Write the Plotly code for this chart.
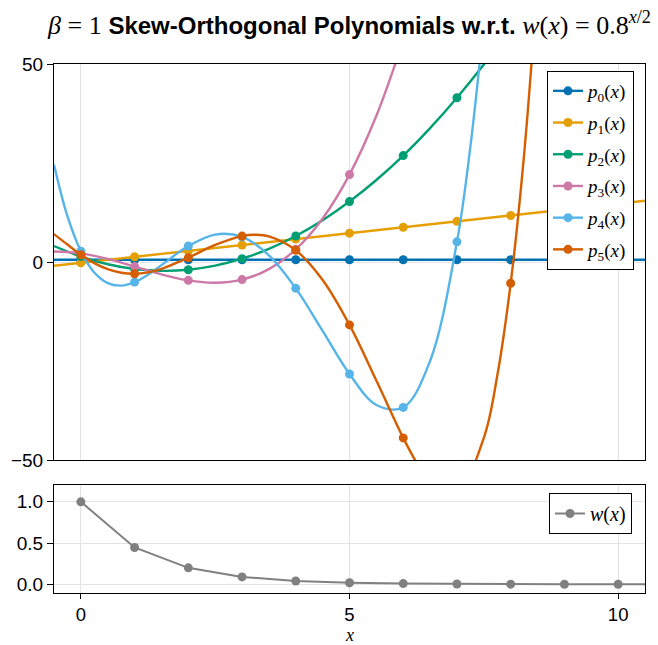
import plotly.graph_objects as go

# ---------------- data ----------------
x_int = [0, 1, 2, 3, 4, 5, 6, 7, 8, 9, 10]

p0_x = [-0.5, 10.5]
p0_y = [0.62, 0.62]
p0_m = [0.62, 0.62, 0.62, 0.62, 0.62, 0.62, 0.62, 0.62, 0.62, 0.62, 0.62]

p1_x = [-0.5, 10.5]
p1_y = [-0.87, 15.52]
p1_m = [-0.12, 1.37, 2.86, 4.35, 5.84, 7.33, 8.82, 10.31, 11.80, 13.29, 14.78]

p2_x = [-0.5, 0, 0.5, 1, 1.5, 2, 2.5, 3, 3.5, 4, 4.5, 5, 5.5, 6, 6.5, 7, 7.5, 8]
p2_y = [4.09, 1.43, -0.51, -1.70, -2.16, -1.88, -0.86, 0.90, 3.39, 6.63, 10.59,
        15.30, 20.74, 26.90, 33.84, 41.50, 49.89, 59.03]
p2_m = [1.43, -1.70, -1.88, 0.90, 6.63, 15.30, 26.90, 41.50, None, None, None]

p3_x = [-0.5, 0, 0.5, 1, 1.5, 2, 2.5, 3, 3.5, 4, 4.5, 5, 5.5, 6]
p3_y = [2.70, 2.25, 0.83, -1.10, -3.06, -4.57, -5.17, -4.38, -1.73, 3.25, 11.04,
        22.10, 36.93, 55.95]
p3_m = [2.25, -1.10, -4.57, -4.38, 3.25, 22.10, None, None, None, None, None]

p4_x = [-0.5, -0.25, 0, 0.25, 0.5, 0.75, 1, 1.25, 1.5, 2, 2.5, 3, 3.5, 4, 4.5,
        5, 5.5, 6, 6.5, 7, 7.25, 7.5]
p4_y = [24.58, 11.61, 2.80, -2.60, -5.28, -5.89, -5.00, -3.13, -0.73, 4.09, 6.98,
        6.40, 1.76, -6.58, -17.32, -28.20, -36.00, -36.62, -24.90, 5.15, 29.15, 60.57]
p4_m = [2.80, -5.00, 4.09, 6.40, -6.58, -28.20, -36.62, 5.15, None, None, None]

p5_x = [-0.5, -0.25, 0, 0.25, 0.5, 0.75, 1, 1.25, 1.5, 2, 2.5, 3, 3.25, 3.5, 4,
        4.5, 5, 5.5, 6, 6.25, 6.5, 7, 7.5, 7.75, 8, 8.25, 8.5]
p5_y = [7.10, 4.46, 1.90, -0.21, -1.74, -2.64, -2.90, -2.55, -1.68, 1.14, 4.36,
        6.60, 6.92, 6.51, 3.02, -4.48, -15.80, -29.84, -44.30, -50.57, -55.43,
        -57.80, -44.28, -28.64, -5.30, 27.22, 70.70]
p5_m = [1.90, -2.90, 1.14, 6.60, 3.02, -15.80, -44.30, None, -5.30, None, None]

w_x = [0, 1, 2, 3, 4, 5, 6, 7, 8, 9, 10, 11]
w_y = [1.0, 0.446, 0.199, 0.089, 0.040, 0.018, 0.008, 0.0035, 0.0016, 0.0007,
       0.0003, 0.0001]
w_m = [1.0, 0.446, 0.199, 0.089, 0.040, 0.018, 0.008, 0.0035, 0.0016, 0.0007, 0.0003]

series = [
    (p0_x, p0_y, p0_m, "#0072B2"),
    (p1_x, p1_y, p1_m, "#E69F00"),
    (p2_x, p2_y, p2_m, "#009E73"),
    (p3_x, p3_y, p3_m, "#CC79A7"),
    (p4_x, p4_y, p4_m, "#56B4E9"),
    (p5_x, p5_y, p5_m, "#D55E00"),
]

SERIF = "Liberation Serif, Times New Roman, serif"
SANS = "Liberation Sans, Arial, Helvetica, sans-serif"
LW = 2.4
MS = 9

fig = go.Figure()
for i, (sx, sy, sm, col) in enumerate(series):
    g = f"p{i}"
    fig.add_trace(go.Scatter(x=sx, y=sy, mode="lines", line=dict(color=col, width=LW, shape="spline"),
                             showlegend=False, legendgroup=g, hoverinfo="skip",
                             xaxis="x", yaxis="y"))
    fig.add_trace(go.Scatter(x=x_int, y=sm, mode="markers", marker=dict(color=col, size=MS),
                             showlegend=False, legendgroup=g, xaxis="x", yaxis="y"))
    fig.add_trace(go.Scatter(x=[None], y=[None], mode="lines+markers",
                             line=dict(color=col, width=LW), marker=dict(color=col, size=MS),
                             name=f"<i>p</i><sub>{i}</sub>(<i>x</i>)", legendgroup=g,
                             showlegend=True, legend="legend", xaxis="x", yaxis="y"))

fig.add_trace(go.Scatter(x=w_x, y=w_y, mode="lines", line=dict(color="#808080", width=2),
                         showlegend=False, xaxis="x2", yaxis="y2"))
fig.add_trace(go.Scatter(x=x_int, y=w_m, mode="markers", marker=dict(color="#808080", size=MS),
                         showlegend=False, xaxis="x2", yaxis="y2"))
fig.add_trace(go.Scatter(x=[None], y=[None], mode="lines+markers",
                         line=dict(color="#808080", width=2), marker=dict(color="#808080", size=MS),
                         name="<i>w</i>(<i>x</i>)", showlegend=True, legend="legend2",
                         xaxis="x2", yaxis="y2"))

GRID = "#e3e3e3"
title_text = (
    f"<span style='font-family:{SERIF};font-size:26px'><i>β</i> = 1</span> "
    "<b>Skew-Orthogonal Polynomials w.r.t.</b> "
    f"<span style='font-family:{SERIF};font-size:26px'><i>w</i>(<i>x</i>) = 0.8<sup><i>x</i>/2</sup></span>"
)

fig.update_layout(
    width=658, height=645,
    margin=dict(l=54, r=13, t=64, b=52, autoexpand=False),
    paper_bgcolor="white", plot_bgcolor="white",
    font=dict(family=SANS, size=19, color="black"),
    title=dict(text=title_text, x=0.5, xref="paper", xanchor="center",
               y=1 - 26 / 645, yref="container", yanchor="middle",
               font=dict(family=SANS, size=24, color="black")),
    xaxis=dict(domain=[0, 1], anchor="y", range=[-0.5, 10.5], tickvals=[0, 5, 10],
               showticklabels=False, ticks="", showgrid=True, gridcolor=GRID, gridwidth=1,
               zeroline=False, showline=True, linecolor="black", linewidth=1, mirror=True),
    yaxis=dict(domain=[0.2505, 1], anchor="x", range=[-50, 50], tickvals=[-50, 0, 50],
               ticks="outside", ticklen=6, tickcolor="black", ticklabelstandoff=0,
               showgrid=True, gridcolor=GRID, gridwidth=1, zeroline=False,
               showline=True, linecolor="black", linewidth=1, mirror=True),
    xaxis2=dict(domain=[0, 1], anchor="y2", range=[-0.5, 10.5], tickvals=[0, 5, 10],
                ticks="outside", ticklen=5, tickcolor="black", tickfont=dict(size=18.5),
                showgrid=True, gridcolor=GRID, gridwidth=1, zeroline=False,
                showline=True, linecolor="black", linewidth=1, mirror=True,
                automargin=False),
    yaxis2=dict(domain=[0, 0.204], anchor="x2", range=[-0.106, 1.203],
                tickvals=[0, 0.5, 1.0], tickformat=".1f",
                ticks="outside", ticklen=6, tickcolor="black", ticklabelstandoff=0,
                showgrid=True, gridcolor=GRID, gridwidth=1, zeroline=False,
                showline=True, linecolor="black", linewidth=1, mirror=True),
    legend=dict(x=(547 - 54) / 591, y=(593 - 71) / 529, xanchor="left", yanchor="top",
                bgcolor="white", bordercolor="black", borderwidth=1,
                font=dict(family=SERIF, size=19), tracegroupgap=4, itemwidth=30),
    legend2=dict(x=(549 - 54) / 591, y=(593 - 493) / 529, xanchor="left", yanchor="top",
                 bgcolor="white", bordercolor="black", borderwidth=1,
                 font=dict(family=SERIF, size=20), itemwidth=30),
    annotations=[dict(text="<i>x</i>", xref="paper", yref="paper", x=0.5,
                      y=(593 - 634.5) / 529, xanchor="center", yanchor="middle",
                      showarrow=False, font=dict(family=SERIF, size=18, color="black"))],
)

fig.write_html("out.html", config={"displayModeBar": False},
               post_script="document.body.style.margin='0px';")
